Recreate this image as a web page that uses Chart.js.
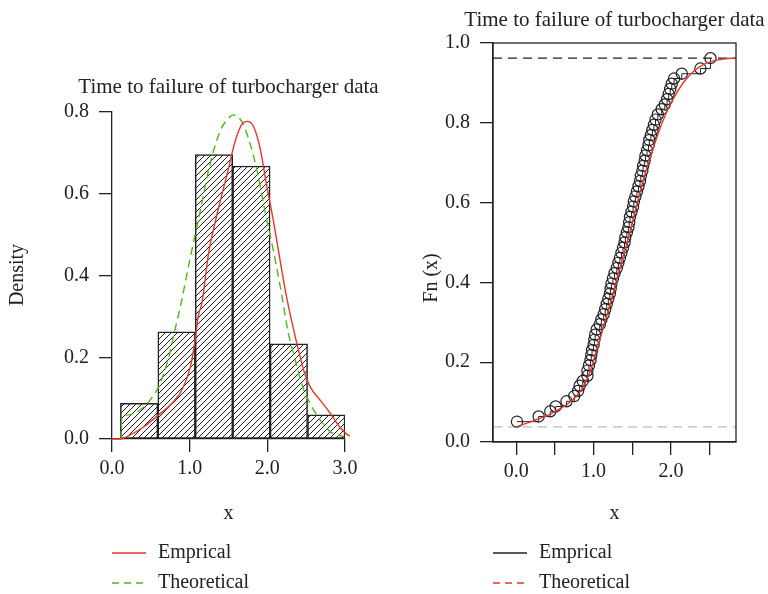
<!DOCTYPE html>
<html>
<head>
<meta charset="utf-8">
<script src="https://cdn.jsdelivr.net/npm/chart.js@4.4.1/dist/chart.umd.min.js"></script>
<style>
  body { margin: 0; background: #fff; }
  .panel { position: absolute; top: 0; width: 384px; height: 594px; }
</style>
</head>
<body>
<div class="panel" style="left:0"><canvas id="densityChart" width="384" height="594"></canvas></div>
<div class="panel" style="left:384px"><canvas id="cdfChart" width="384" height="594"></canvas></div>
<script>
// Histogram of failure times (bin centres and densities)
const binCenters = [0.349, 0.831, 1.313, 1.795, 2.277, 2.759];
const binDensity = [0.087, 0.262, 0.696, 0.668, 0.233, 0.059];

// Kernel density estimate (empirical)
const kdeX = [0.0, 0.11, 0.235, 0.41, 0.60, 0.77, 0.90, 1.01, 1.07, 1.11, 1.16, 1.24, 1.35, 1.48, 1.585, 1.67, 1.74, 1.82, 1.906, 1.99, 2.08, 2.16, 2.25, 2.33, 2.40, 2.48, 2.55, 2.68, 2.81, 2.93, 3.06, 3.17];
const kdeY = [0.0, 0.0, 0.01, 0.03, 0.059, 0.087, 0.12, 0.177, 0.242, 0.30, 0.335, 0.45, 0.548, 0.646, 0.728, 0.769, 0.777, 0.765, 0.712, 0.622, 0.532, 0.442, 0.345, 0.275, 0.218, 0.161, 0.128, 0.095, 0.063, 0.030, 0.007, 0.002];

// Fitted density (theoretical)
const fitX = [0.116, 0.128, 0.21, 0.36, 0.49, 0.62, 0.73, 0.81, 0.88, 1.006, 1.135, 1.26, 1.39, 1.50, 1.563, 1.67, 1.756, 1.86, 1.97, 2.08, 2.185, 2.27, 2.36, 2.44, 2.55, 2.68, 2.81, 2.98];
const fitY = [0.0, 0.055, 0.059, 0.071, 0.095, 0.136, 0.20, 0.267, 0.324, 0.442, 0.557, 0.671, 0.752, 0.785, 0.793, 0.777, 0.736, 0.663, 0.557, 0.459, 0.353, 0.259, 0.193, 0.136, 0.087, 0.047, 0.018, 0.006];

// Empirical CDF points
const ecdfX = [0.01, 0.29, 0.44, 0.51, 0.65, 0.75, 0.80, 0.82, 0.86, 0.92, 0.92, 0.94, 0.96, 0.97, 0.98, 1.00, 1.01, 1.02, 1.04, 1.08, 1.10, 1.13, 1.15, 1.17, 1.19, 1.21, 1.22, 1.23, 1.25, 1.27, 1.30, 1.32, 1.34, 1.36, 1.38, 1.40, 1.41, 1.43, 1.45, 1.46, 1.47, 1.49, 1.51, 1.52, 1.54, 1.56, 1.58, 1.60, 1.61, 1.63, 1.64, 1.66, 1.67, 1.69, 1.71, 1.72, 1.74, 1.76, 1.78, 1.80, 1.83, 1.88, 1.92, 1.95, 1.97, 1.99, 2.01, 2.04, 2.14, 2.38, 2.51];
const ecdfY = [0.051, 0.064, 0.077, 0.089, 0.102, 0.115, 0.128, 0.141, 0.153, 0.166, 0.179, 0.192, 0.205, 0.218, 0.230, 0.243, 0.256, 0.269, 0.282, 0.295, 0.307, 0.320, 0.333, 0.346, 0.359, 0.372, 0.384, 0.397, 0.410, 0.423, 0.436, 0.449, 0.461, 0.474, 0.487, 0.500, 0.513, 0.526, 0.538, 0.551, 0.564, 0.577, 0.590, 0.603, 0.615, 0.628, 0.641, 0.654, 0.667, 0.680, 0.692, 0.705, 0.718, 0.731, 0.744, 0.757, 0.769, 0.782, 0.795, 0.808, 0.821, 0.834, 0.846, 0.859, 0.872, 0.885, 0.898, 0.911, 0.923, 0.936, 0.962];

// Fitted CDF (theoretical)
const cdfX = [0.0, 0.22, 0.44, 0.66, 0.79, 0.89, 0.96, 1.04, 1.11, 1.24, 1.35, 1.47, 1.56, 1.63, 1.73, 1.86, 1.99, 2.21, 2.42, 2.73, 2.84];
const cdfY = [0.038, 0.053, 0.070, 0.095, 0.117, 0.147, 0.180, 0.230, 0.276, 0.364, 0.444, 0.528, 0.596, 0.648, 0.712, 0.787, 0.846, 0.913, 0.946, 0.961, 0.962];

// Reference levels of the CDF plot
const cdfLow = 0.038;
const cdfHigh = 0.962;

// Tick values
const densityXTicks = [0, 1, 2, 3];
const cdfXTicks = [0, 0.5, 1, 1.5, 2, 2.5];
const cdfXLabeled = [0, 1, 2];

const INK = '#222222';
const RED = '#e5392b';
const GREEN = '#4cb91c';
const FONT_FAMILY = '"Liberation Serif", "Times New Roman", serif';

Chart.defaults.font.family = FONT_FAMILY;
Chart.defaults.font.size = 20;
Chart.defaults.color = INK;
Chart.defaults.animation = false;

const toPoints = (xs, ys) => xs.map((x, i) => ({ x: x, y: ys[i] }));

// diagonal hatching for the histogram bars
function hatchPattern() {
  const c = document.createElement('canvas');
  c.width = 6; c.height = 6;
  const g = c.getContext('2d');
  g.fillStyle = '#ffffff';
  g.fillRect(0, 0, 6, 6);
  g.strokeStyle = '#1e1e1e';
  g.lineWidth = 1;
  g.beginPath();
  g.moveTo(0, 6); g.lineTo(6, 0);
  g.moveTo(-1, 1); g.lineTo(1, -1);
  g.moveTo(5, 7); g.lineTo(7, 5);
  g.stroke();
  return g.createPattern(c, 'repeat');
}

// titles, axis labels, frame and legend drawn on top of each panel
const panelText = {
  id: 'panelText',
  afterDraw(chart, args, opts) {
    const { ctx, chartArea: a } = chart;
    const cx = (a.left + a.right) / 2;
    ctx.save();
    ctx.fillStyle = INK;
    ctx.font = '21px ' + FONT_FAMILY;
    ctx.textAlign = 'center';
    ctx.textBaseline = 'alphabetic';
    ctx.fillText(opts.title, cx, opts.titleY);

    ctx.font = '20px ' + FONT_FAMILY;
    ctx.fillText('x', cx, 519);

    ctx.save();
    ctx.translate(opts.yLabelX, opts.yLabelY);
    ctx.rotate(-Math.PI / 2);
    ctx.textBaseline = 'middle';
    ctx.fillText(opts.yLabel, 0, 0);
    ctx.restore();

    if (opts.box) {
      ctx.strokeStyle = INK;
      ctx.lineWidth = 1.3;
      ctx.strokeRect(a.left, a.top, a.right - a.left, a.bottom - a.top);
    }

    opts.legend.forEach((item, i) => {
      const y = 553 + i * 30;
      ctx.strokeStyle = item.color;
      ctx.lineWidth = 1.3;
      ctx.setLineDash(item.dash || []);
      ctx.beginPath();
      ctx.moveTo(a.left, y);
      ctx.lineTo(a.left + 34, y);
      ctx.stroke();
      ctx.setLineDash([]);
      ctx.textAlign = 'left';
      ctx.textBaseline = 'middle';
      ctx.fillText(item.label, a.left + 46, y);
    });
    ctx.restore();
  }
};

function axisBase(extra) {
  return Object.assign({
    type: 'linear',
    offset: false,
    grid: {
      display: true,
      drawOnChartArea: false,
      drawTicks: true,
      tickLength: 13,
      color: INK,
      tickColor: INK,
      lineWidth: 1.3,
      offset: false
    },
    border: { display: true, color: INK, width: 1.3 }
  }, extra);
}

// Left panel: histogram with empirical and fitted densities
new Chart(document.getElementById('densityChart'), {
  type: 'bar',
  data: {
    datasets: [
      {
        type: 'line',
        label: 'Emprical',
        data: toPoints(kdeX, kdeY),
        borderColor: RED,
        borderWidth: 1.4,
        pointRadius: 0,
        cubicInterpolationMode: 'monotone',
        clip: false,
        order: 1
      },
      {
        type: 'line',
        label: 'Theoretical',
        data: toPoints(fitX, fitY),
        borderColor: GREEN,
        borderWidth: 1.4,
        borderDash: [8, 5],
        pointRadius: 0,
        cubicInterpolationMode: 'monotone',
        clip: false,
        order: 2
      },
      {
        type: 'bar',
        label: 'Histogram',
        data: toPoints(binCenters, binDensity),
        backgroundColor: hatchPattern(),
        borderColor: INK,
        borderWidth: 1.5,
        borderSkipped: false,
        barPercentage: 1,
        categoryPercentage: 1,
        order: 3
      }
    ]
  },
  options: {
    responsive: false,
    layout: { padding: { left: 0, right: 39, top: 112, bottom: 105 } },
    scales: {
      x: axisBase({
        min: 0,
        max: 3,
        afterBuildTicks: s => { s.ticks = densityXTicks.map(v => ({ value: v })); },
        afterFit: s => { s.height = 50; },
        ticks: { padding: 5, callback: v => v.toFixed(1), maxRotation: 0 }
      }),
      y: axisBase({
        min: 0,
        max: 0.8,
        afterFit: s => { s.width = 112; },
        ticks: { stepSize: 0.2, padding: 10, callback: v => v.toFixed(1) }
      })
    },
    plugins: {
      legend: { display: false },
      title: { display: false },
      tooltip: { enabled: false },
      panelText: {
        title: 'Time to failure of turbocharger data',
        titleY: 93,
        yLabel: 'Density',
        yLabelX: 18,
        yLabelY: 275,
        box: false,
        legend: [
          { label: 'Emprical', color: RED },
          { label: 'Theoretical', color: GREEN, dash: [7, 5] }
        ]
      }
    }
  },
  plugins: [panelText]
});

// Right panel: empirical vs fitted CDF
new Chart(document.getElementById('cdfChart'), {
  type: 'line',
  data: {
    datasets: [
      {
        label: 'Theoretical',
        data: toPoints(cdfX, cdfY),
        borderColor: RED,
        borderWidth: 1.4,
        pointRadius: 0,
        cubicInterpolationMode: 'monotone',
        order: 1
      },
      {
        label: 'Emprical',
        data: toPoints(ecdfX, ecdfY),
        borderColor: INK,
        borderWidth: 1,
        stepped: 'before',
        pointRadius: 5.6,
        pointBorderWidth: 1.2,
        pointBorderColor: INK,
        pointBackgroundColor: 'rgba(0,0,0,0)',
        order: 2
      },
      {
        label: 'upper',
        data: [{ x: -0.3, y: cdfHigh }, { x: 2.84, y: cdfHigh }],
        borderColor: INK,
        borderWidth: 1.2,
        borderDash: [9, 6],
        pointRadius: 0,
        order: 3
      },
      {
        label: 'lower',
        data: [{ x: -0.3, y: cdfLow }, { x: 2.84, y: cdfLow }],
        borderColor: '#bdbdbd',
        borderWidth: 1.2,
        borderDash: [9, 6],
        pointRadius: 0,
        order: 4
      }
    ]
  },
  options: {
    responsive: false,
    layout: { padding: { left: 0, right: 32, top: 43, bottom: 102 } },
    scales: {
      x: axisBase({
        min: -0.3,
        max: 2.84,
        afterBuildTicks: s => { s.ticks = cdfXTicks.map(v => ({ value: v })); },
        afterFit: s => { s.height = 50; },
        ticks: {
          padding: 5,
          maxRotation: 0,
          autoSkip: false,
          callback: v => (cdfXLabeled.includes(v) ? v.toFixed(1) : '')
        }
      }),
      y: axisBase({
        min: 0,
        max: 1,
        afterFit: s => { s.width = 109; },
        ticks: { stepSize: 0.2, padding: 10, callback: v => v.toFixed(1) }
      })
    },
    plugins: {
      legend: { display: false },
      title: { display: false },
      tooltip: { enabled: false },
      panelText: {
        title: 'Time to failure of turbocharger data',
        titleY: 26,
        yLabel: 'Fn (x)',
        yLabelX: 48,
        yLabelY: 278,
        box: true,
        legend: [
          { label: 'Emprical', color: INK },
          { label: 'Theoretical', color: RED, dash: [7, 5] }
        ]
      }
    }
  },
  plugins: [panelText]
});
</script>
</body>
</html>
